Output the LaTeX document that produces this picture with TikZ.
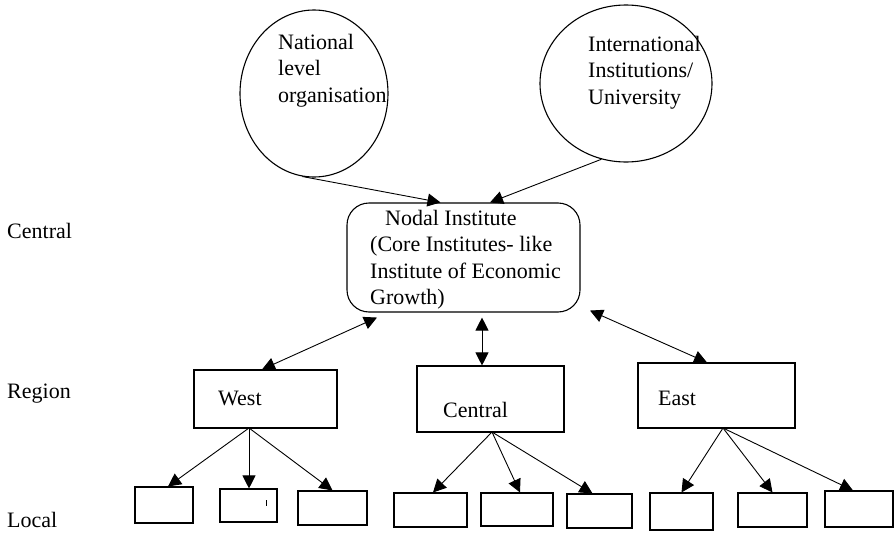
\documentclass[tikz,border=0pt]{standalone}
\usepackage{fontspec}
\setmainfont{Liberation Serif}
\usetikzlibrary{arrows.meta,shapes.geometric}
\begin{document}
\begin{tikzpicture}[x=1pt,y=-1pt,
  lbl/.style={inner sep=0pt, anchor=base west, font=\fontsize{22}{26}\selectfont},
  mtxt/.style={inner sep=0pt, anchor=north west, align=left, font=\fontsize{22}{26.5}\selectfont},
  circ/.style={draw, ellipse, line width=1.1pt, inner sep=0pt},
  rbox/.style={draw, rectangle, line width=1.1pt, inner sep=0pt},
  arr/.style={line width=0.9pt, -{Triangle[length=13pt,width=13pt]}},
  darr/.style={line width=0.9pt, {Triangle[length=13pt,width=13pt]}-{Triangle[length=13pt,width=13pt]}},
]
\useasboundingbox (0,0) rectangle (895,533);

% level labels
\node[lbl] (lc) at (7,238) {Central};
\node[lbl] (lr) at (7,398) {Region};
\node[lbl] (ll) at (7,527) {Local};

% top circles
\node[circ, minimum width=148pt, minimum height=167pt] (nat) at (314,93.5) {};
\node[mtxt] (nattxt) at (278,34) {National\\level\\organisation};
\node[circ, minimum width=172pt, minimum height=157pt] (intl) at (626,83.5) {};
\node[mtxt] (intltxt) at (588,36) {International\\Institutions/\\University};

% nodal institute
\node[draw, rectangle, rounded corners=22pt, line width=1.1pt, inner sep=0pt,
      minimum width=233pt, minimum height=109pt] (nodal) at (463.5,257.5) {};
\node[mtxt] (nodaltxt) at (370,210) {\hspace*{15pt}Nodal Institute\\(Core Institutes- like\\Institute of Economic\\Growth)};

% regions
\node[rbox, minimum width=143pt, minimum height=58pt] (west) at (265.5,399) {};
\node[rbox, minimum width=147pt, minimum height=66pt] (cen) at (490.5,399) {};
\node[rbox, minimum width=157pt, minimum height=65pt] (east) at (716.5,395.5) {};
\node[lbl] (tw) at (218,405) {West};
\node[lbl] (tc) at (443,417) {Central};
\node[lbl] (te) at (658,405) {East};

% locals
\node[rbox, minimum width=58pt, minimum height=36pt] (l1) at (164,505) {};
\node[rbox, minimum width=57pt, minimum height=33pt] (l2) at (248.5,505.5) {};
\node[rbox, minimum width=69pt, minimum height=34pt] (l3) at (332.5,508) {};
\node[rbox, minimum width=73pt, minimum height=34pt] (l4) at (430.5,510) {};
\node[rbox, minimum width=72pt, minimum height=33pt] (l5) at (517,509.5) {};
\node[rbox, minimum width=65pt, minimum height=34pt] (l6) at (599.5,511) {};
\node[rbox, minimum width=63pt, minimum height=37pt] (l7) at (681.5,511.5) {};
\node[rbox, minimum width=69pt, minimum height=34pt] (l8) at (772.5,510) {};
\node[rbox, minimum width=68pt, minimum height=36pt] (l9) at (859,509) {};
\draw[line width=1pt] (266,500) -- (266,506);

% connectors top
\draw[arr] (nat.-98) -- ([xshift=-23pt]nodal.north);
\draw[arr] (intl.-108) -- ([xshift=26.5pt]nodal.north);

% nodal <-> regions
\draw[darr] ([shift={(-86.5,5)}]nodal.south) -- ([xshift=-3.5pt]west.north);
\draw[darr] ([shift={(18.5,5)}]nodal.south) -- ([xshift=-8.5pt]cen.north);
\draw[darr] ([shift={(126.5,-2)}]nodal.south) -- ([xshift=-9.5pt]east.north);

% regions -> locals
\coordinate (wb) at (249,428);
\coordinate (cb) at (492,432);
\coordinate (eb) at (723,428);
\draw[arr] (wb) -- ([xshift=4pt]l1.north);
\draw[arr] (wb) -- ([xshift=0.5pt]l2.north);
\draw[arr] (wb) -- (l3.north);
\draw[arr] (cb) -- ([xshift=2.5pt]l4.north);
\draw[arr] (cb) -- ([xshift=3pt]l5.north);
\draw[arr] (cb) -- ([xshift=-7pt]l6.north);
\draw[arr] (eb) -- (l7.north);
\draw[arr] (eb) -- (l8.north);
\draw[arr] (eb) -- ([xshift=-6pt]l9.north);
\end{tikzpicture}
\end{document}
